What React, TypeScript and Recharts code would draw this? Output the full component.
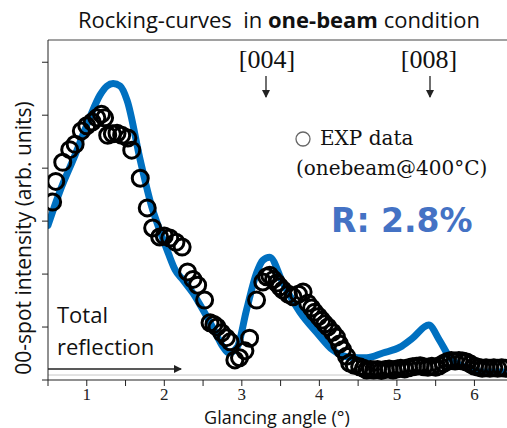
import { ComposedChart, Scatter, Line, XAxis, YAxis, ReferenceLine } from 'recharts'

// measured points (glancing angle, intensity in arb. units)
const expX = [
  0.56, 0.6, 0.69, 0.78, 0.85, 0.93, 1.0, 1.07, 1.13, 1.19, 1.23, 1.27, 1.33, 1.39, 1.45, 1.53,
  1.58, 1.69, 1.78, 1.85, 1.94, 2.0, 2.07, 2.15, 2.23, 2.3, 2.37, 2.43, 2.52, 2.59, 2.64, 2.68,
  2.74, 2.8, 2.85, 2.91, 2.97, 3.04, 3.1, 3.19, 3.27, 3.32, 3.36, 3.41, 3.45, 3.49, 3.53, 3.6,
  3.66, 3.73, 3.79, 3.85, 3.9, 3.94, 3.99, 4.03, 4.07, 4.11, 4.17, 4.22, 4.26, 4.3, 4.35, 4.39,
  4.45, 4.52, 4.57, 4.61, 4.66, 4.7, 4.75, 4.8, 4.85, 4.9, 4.95, 5.0, 5.05, 5.1, 5.15, 5.2,
  5.25, 5.3, 5.35, 5.4, 5.45, 5.5, 5.55, 5.6, 5.65, 5.7, 5.75, 5.8, 5.85, 5.9, 5.95, 6.0,
  6.05, 6.1, 6.15, 6.2, 6.25, 6.3, 6.35, 6.4,
]
const expY = [
  3.36, 3.75, 4.11, 4.35, 4.45, 4.7, 4.8, 4.87, 4.95, 5.02, 4.95, 4.62, 4.65, 4.66, 4.62, 4.57,
  4.34, 3.81, 3.25, 2.87, 2.7, 2.72, 2.68, 2.6, 2.51, 2.04, 1.9, 1.79, 1.51, 1.08, 1.05, 1.0,
  0.89, 0.8, 0.72, 0.38, 0.42, 0.55, 0.79, 1.51, 1.85, 1.95, 1.98, 1.9, 1.83, 1.76, 1.7, 1.62,
  1.57, 1.62, 1.66, 1.45, 1.36, 1.28, 1.2, 1.13, 1.06, 1.0, 0.9, 0.81, 0.68, 0.57, 0.45, 0.32,
  0.28, 0.25, 0.22, 0.19, 0.2, 0.19, 0.2, 0.18, 0.2, 0.21, 0.19, 0.21, 0.22, 0.21, 0.23, 0.25,
  0.26, 0.27, 0.25, 0.24, 0.26, 0.24, 0.27, 0.31, 0.35, 0.37, 0.36, 0.37, 0.36, 0.34, 0.3, 0.26,
  0.24, 0.22, 0.23, 0.22, 0.23, 0.22, 0.23, 0.22,
]

// simulated rocking curve
const fitX = [
  0.5, 0.65, 0.85, 1.04, 1.17, 1.26, 1.34, 1.43, 1.52, 1.69, 1.84, 1.94, 2.05, 2.14, 2.24, 2.37,
  2.5, 2.63, 2.76, 2.83, 2.94, 3.06, 3.19, 3.27, 3.36, 3.53, 3.75, 3.97, 4.17, 4.39, 4.61, 4.82,
  5.04, 5.2, 5.41, 5.55, 5.68, 5.9, 6.1, 6.42,
]
const fitY = [
  2.92, 3.55, 4.25, 4.96, 5.38, 5.55, 5.6, 5.55, 5.28, 4.15, 3.26, 2.83, 2.4, 2.08, 1.89, 1.64,
  1.32, 0.98, 0.62, 0.51, 0.62, 1.32, 2.02, 2.26, 2.32, 1.83, 1.28, 0.89, 0.57, 0.43, 0.42, 0.51,
  0.62, 0.79, 1.04, 0.75, 0.43, 0.23, 0.15, 0.15,
]

const xTicks = [0.5, 1, 1.5, 2, 2.5, 3, 3.5, 4, 4.5, 5, 5.5, 6]
const yTicks = [0, 1, 2, 3, 4, 5, 6]
const X_MIN = 0.5
const X_MAX = 6.42
const Y_MAX = 6.42

const expData = expX.map((x, i) => ({ x, y: expY[i] }))
const fitData = fitX.map((x, i) => ({ x, y: fitY[i] }))

const SANS = 'Open Sans, Noto Sans, sans-serif'
const SERIF = 'Liberation Serif, serif'

const ring = (props: any) => (
  <circle cx={props.cx} cy={props.cy} r={8} fill="none" stroke="#000" strokeWidth={3} />
)

function Overlay() {
  return (
    <svg width={507} height={428} style={{ position: 'absolute', left: 0, top: 0, pointerEvents: 'none' }}>
      <defs>
        <marker id="head" markerWidth="8" markerHeight="8" refX="7" refY="4" orient="auto" markerUnits="userSpaceOnUse">
          <path d="M0,0 L8,4 L0,8 z" fill="#222" />
        </marker>
      </defs>
      <text x={279} y={28} textAnchor="middle" fontFamily={SANS} fontSize={22} fill="#111" style={{ whiteSpace: 'pre' }}>
        Rocking-curves  in <tspan fontWeight="bold">one-beam</tspan> condition
      </text>

      <text x={267} y={68} textAnchor="middle" fontFamily={SERIF} fontSize={26} fill="#111">[004]</text>
      <line x1={266} y1={76} x2={266} y2={97} stroke="#222" strokeWidth={1.3} markerEnd="url(#head)" />
      <text x={429} y={68} textAnchor="middle" fontFamily={SERIF} fontSize={26} fill="#111">[008]</text>
      <line x1={430} y1={76} x2={430} y2={97} stroke="#222" strokeWidth={1.3} markerEnd="url(#head)" />

      <circle cx={303} cy={139} r={7} fill="none" stroke="#666" strokeWidth={1.3} />
      <text x={320} y={145} fontFamily="DejaVu Serif, serif" fontSize={20} fill="#111">EXP data</text>
      <text x={296} y={175} fontFamily="DejaVu Serif, serif" fontSize={20} fill="#111">(onebeam@400°C)</text>
      <text x={331} y={232} fontFamily="DejaVu Sans, sans-serif" fontWeight="bold" fontSize={33} fill="#4472c4">R: 2.8%</text>

      <text x={57} y={323} fontFamily={SANS} fontSize={22} fill="#111">Total</text>
      <text x={57} y={355} fontFamily={SANS} fontSize={22} fill="#111">reflection</text>
      <line x1={48} y1={369} x2={181} y2={369} stroke="#222" strokeWidth={1.3} markerEnd="url(#head)" />

      <text x={277} y={424} textAnchor="middle" fontFamily={SANS} fontSize={18} fill="#111">Glancing angle (°)</text>
      <text x={31} y={238} textAnchor="middle" fontFamily={SANS} fontSize={21} fill="#111" transform="rotate(-90 31 238)">
        00-spot intensity (arb. units)
      </text>
    </svg>
  )
}

export default function App() {
  return (
    <div style={{ position: 'absolute', left: 0, top: 0, width: 507, height: 428, background: '#fff' }}>
      <ComposedChart width={507} height={428} margin={{ top: 40, right: 0, bottom: 0, left: 0 }}>
        <XAxis
          dataKey="x"
          type="number"
          domain={[X_MIN, X_MAX]}
          ticks={xTicks}
          allowDataOverflow
          height={48}
          stroke="#222"
          tickSize={6}
          tickMargin={2}
          tickFormatter={(v: number) => (Number.isInteger(v) ? String(v) : '')}
          tick={{ fontFamily: SERIF, fontSize: 17, fill: '#222' }}
        />
        <YAxis
          dataKey="y"
          type="number"
          domain={[0, Y_MAX]}
          ticks={yTicks}
          allowDataOverflow
          width={48}
          stroke="#222"
          tickSize={6}
          tickFormatter={() => ''}
        />
        <ReferenceLine y={Y_MAX} stroke="#444" strokeWidth={1} />
        <ReferenceLine y={0.094} stroke="#c8c8c8" strokeWidth={1} />
        <Scatter data={expData} shape={ring} isAnimationActive={false} />
        <Line
          data={fitData}
          dataKey="y"
          type="monotone"
          stroke="#0070c0"
          strokeWidth={7}
          strokeLinecap="round"
          dot={false}
          activeDot={false}
          isAnimationActive={false}
        />
      </ComposedChart>
      <Overlay />
    </div>
  )
}
